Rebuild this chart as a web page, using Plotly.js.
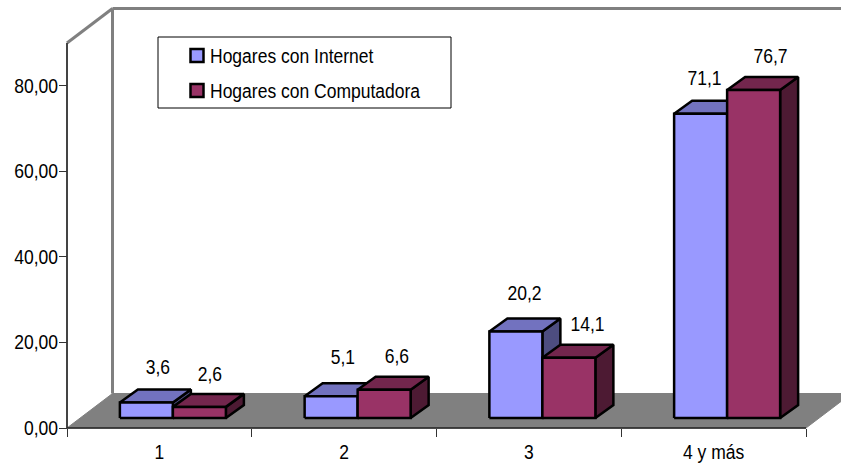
<!DOCTYPE html>
<html>
<head>
<meta charset="utf-8">
<script src="https://cdn.plot.ly/plotly-3.0.1.min.js"></script>
<style>html,body{margin:0;padding:0;background:#fff;overflow:hidden}</style>
</head>
<body>
<div id="chart" style="width:841px;height:464px"></div>
<script>
const categories = ['1', '2', '3', '4 y más'];
const hogaresInternet = [3.6, 5.1, 20.2, 71.1];
const hogaresComputadora = [2.6, 6.6, 14.1, 76.7];
const internetLabels = ['3,6', '5,1', '20,2', '71,1'];
const computadoraLabels = ['2,6', '6,6', '14,1', '76,7'];
const yTicks = [0, 20, 40, 60, 80];
const yTickLabels = ['0,00', '20,00', '40,00', '60,00', '80,00'];

const FONT = '"Liberation Sans", Arial, sans-serif';
const FS = 20;
// layout geometry: the plotting frame runs past the axes so the oblique floor and walls fit
const W = 841, H = 464, axisLeft = 67, axisBottom = 428;
const padL = 7, padB = 12;
const xMin = 0.5, xMax = 4.5, yMin = 0, yMax = 90;
const pxX = (806 - axisLeft) / (xMax - xMin), pxY = (axisBottom - 43) / (yMax - yMin);
const plotW = W - (axisLeft - padL), plotH = axisBottom + padB;
const wallDX = 45.5 / pxX, wallDY = 34.5 / pxY;
const barW = 53 / pxX, barDX = 18 / pxX, barDY = 13 / pxY;
const baseDX = 13.5 / pxX, baseDY = 10 / pxY;

const traces = [];
function poly(xs, ys, fill, lineColor, lineWidth) {
  traces.push({
    type: 'scatter', mode: 'lines', x: xs.concat(xs[0]), y: ys.concat(ys[0]),
    fill: 'toself', fillcolor: fill, line: {color: lineColor, width: lineWidth, shape: 'linear'},
    hoverinfo: 'skip', showlegend: false
  });
}
function path(xs, ys, color, width) {
  traces.push({
    type: 'scatter', mode: 'lines', x: xs, y: ys, line: {color: color, width: width},
    hoverinfo: 'skip', showlegend: false
  });
}
// floor
poly([xMin, xMax, xMax + wallDX, xMin + wallDX], [0, 0, wallDY, wallDY], '#808080', '#808080', 1);
// walls
path([xMin + wallDX, xMin + wallDX], [wallDY, yMax + wallDY], '#808080', 3);
path([xMin + wallDX, xMax + wallDX], [yMax + wallDY, yMax + wallDY], '#808080', 3);
path([xMin, xMin + wallDX], [yMax, yMax + wallDY], '#808080', 3);
// axis lines
path([xMin, xMin], [yMin, yMax], '#444', 2);
path([xMin, xMax], [yMin, yMin], '#222', 1.5);

function bar(cx, v, front, top, side) {
  const x0 = cx, x1 = cx + barW, y0 = baseDY, y1 = baseDY + v;
  poly([x1, x1 + barDX, x1 + barDX, x1], [y0, y0 + barDY, y1 + barDY, y1], side, '#000', 2.5);
  poly([x0, x1, x1 + barDX, x0 + barDX], [y1, y1, y1 + barDY, y1 + barDY], top, '#000', 2.5);
  poly([x0, x1, x1, x0], [y0, y0, y1, y1], front, '#000', 2.5);
}
categories.forEach((c, i) => {
  const centre = i + 1 + baseDX;
  bar(centre - barW, hogaresInternet[i], '#9999FF', '#7272BF', '#4D4D80');
  bar(centre, hogaresComputadora[i], '#993366', '#73264D', '#4D1A33');
});

[['Hogares con Internet', '#9999FF'], ['Hogares con Computadora', '#993366']].forEach(([name, color]) => {
  traces.push({
    type: 'scatter', mode: 'markers', name: name, legendgroup: name, x: [null], y: [null],
    marker: {symbol: 'square', size: 13, color: color, line: {color: '#000', width: 2.5}}
  });
});

const labelDX = [[12, 11], [12, 13], [9, 19], [4, 17]];
const labelDY = [[36, 33], [39, 34], [39, 34], [36, 34]];
const annotations = [];
categories.forEach((c, i) => {
  const centre = i + 1 + baseDX;
  [[hogaresInternet, internetLabels, centre - barW], [hogaresComputadora, computadoraLabels, centre]].forEach((s, k) => {
    annotations.push({
      x: s[2] + barW / 2, y: baseDY + s[0][i], xref: 'x', yref: 'y', text: s[1][i], showarrow: false,
      xshift: labelDX[i][k], yshift: labelDY[i][k], xanchor: 'center', yanchor: 'middle',
      font: {family: FONT, size: FS, color: '#000'}
    });
  });
});

const paperX = px => (px - (axisLeft - padL)) / plotW;
const paperY = py => 1 - py / plotH;

const layout = {
  width: W, height: H, margin: {l: axisLeft - padL, r: 0, t: 0, b: H - plotH, pad: 0},
  paper_bgcolor: '#fff', plot_bgcolor: 'rgba(0,0,0,0)',
  font: {family: FONT, size: FS, color: '#000'},
  showlegend: true,
  legend: {
    x: paperX(177), y: paperY(36), xanchor: 'left', yanchor: 'top',
    bgcolor: 'rgba(0,0,0,0)', borderwidth: 0, traceorder: 'grouped', tracegroupgap: 6,
    font: {family: FONT, size: FS, color: '#000'}, itemclick: false, itemdoubleclick: false
  },
  xaxis: {
    range: [xMin - padL / pxX, xMin + (W - axisLeft) / pxX], anchor: 'free', position: padB / plotH,
    tickmode: 'array', tickvals: [1, 2, 3, 4], ticktext: categories,
    ticks: 'outside', ticklen: 6, tickcolor: 'rgba(0,0,0,0)', showgrid: false, zeroline: false,
    showline: false, fixedrange: true,
    minor: {tickmode: 'array', tickvals: [0.5, 1.5, 2.5, 3.5, 4.5], ticks: 'outside', ticklen: 8, tickcolor: '#333', tickwidth: 1, showgrid: false}
  },
  yaxis: {
    range: [yMin - padB / pxY, axisBottom / pxY], anchor: 'free', position: padL / plotW,
    tickmode: 'array', tickvals: yTicks, ticktext: yTickLabels, ticklabelstandoff: -3,
    ticks: 'outside', ticklen: 8, tickcolor: '#333', tickwidth: 1, showgrid: false, zeroline: false,
    showline: false, fixedrange: true
  },
  shapes: [{type: 'rect', xref: 'paper', yref: 'paper', layer: 'above',
    x0: paperX(158), x1: paperX(451), y0: paperY(108), y1: paperY(37),
    fillcolor: '#fff', line: {color: '#000', width: 1}}],
  annotations: annotations
};
Plotly.newPlot('chart', traces, layout, {displayModeBar: false, staticPlot: true}).then(gd => {
  // The reference type is a condensed face: squeeze each text horizontally, keeping it real text
  gd.querySelectorAll('.xtick text, .ytick text, .annotation-text, .legendtext').forEach(t => {
    t.setAttribute('textLength', (t.getComputedTextLength() * 0.875).toFixed(1));
    t.setAttribute('lengthAdjust', 'spacingAndGlyphs');
  });
  gd.querySelectorAll('.legendtext').forEach(t => {
    t.setAttribute('x', parseFloat(t.getAttribute('x')) - 7);
  });
});
</script>
</body>
</html>
